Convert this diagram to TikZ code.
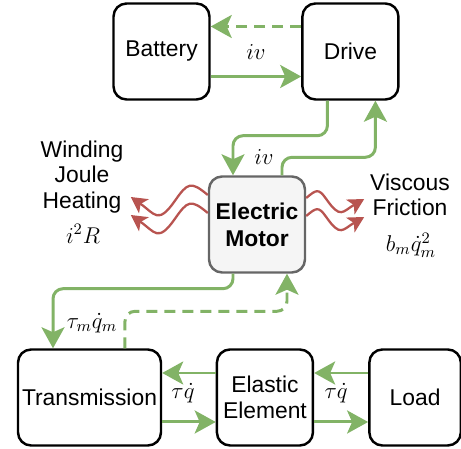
\RequirePackage{fix-cm}
\documentclass[tikz,border=0pt]{standalone}
\usepackage{fontspec}
\setmainfont{Liberation Sans}
\usetikzlibrary{arrows.meta,positioning}
\definecolor{flowGreen}{HTML}{82B366}
\definecolor{heatRed}{HTML}{B85450}
\definecolor{motorFill}{HTML}{F5F5F5}
\definecolor{motorLine}{HTML}{666666}

\begin{document}
\begin{tikzpicture}[
    x=0.02cm, y=0.02cm,
    n/.style={draw, line width=1.4pt, rounded corners=0.26cm, minimum width=1.92cm, minimum height=1.92cm, inner sep=1pt, align=center, font=\fontsize{13}{14.5}\selectfont},
    arr/.style={-{Stealth[length=0.42cm,width=0.46cm,inset=0.1cm]}, line width=1.7pt, flowGreen, rounded corners=0.2cm},
    back/.style={arr, dash pattern=on 0.22cm off 0.14cm},
    heat/.style={-{Stealth[length=0.32cm,width=0.34cm,inset=0.08cm]}, line width=1.3pt, heatRed, looseness=1.7},
    lbl/.style={font=\fontsize{13}{14.5}\selectfont, align=center}
  ]
    \useasboundingbox (0,0) rectangle (461,449);
    \node[n] (B) at (161.5,397.5) {Battery};
    \node[n, right=1.81cm of B] (D) {Drive};
    \node[n, fill=motorFill, draw=motorLine, font=\bfseries\fontsize{13}{15.5}\selectfont] (M) at (257,224.5) {Electric\\Motor};
    \node[n, minimum width=2.86cm] (T) at (89.5,51.5) {Transmission};
    \node[n, right=1.07cm of T] (E) {Elastic\\Element};
    \node[n, minimum width=1.83cm, right=1.08cm of E] (L) {Load};
    % power flow
    \draw[arr] ([yshift=-0.5cm]B.east) -- ([yshift=-0.5cm]D.west);
    \draw[back] ([yshift=0.5cm]D.west) -- ([yshift=0.5cm]B.east);
    \draw[arr] ([xshift=-0.46cm]D.south) -- ++(0,-0.7cm) -| ([xshift=-0.48cm]M.north);
    \draw[arr] ([xshift=0.5cm]M.north) -- ++(0,0.36cm) -| ([xshift=0.5cm]D.south);
    \draw[arr] ([xshift=-0.48cm]M.south) -- ++(0,-0.3cm) -| ([xshift=-0.73cm]T.north);
    \draw[back] ([xshift=0.71cm]T.north) -- ++(0,0.74cm) -| ([xshift=0.6cm]M.south);
    \draw[arr] ([yshift=0.49cm]E.west) -- ([yshift=0.49cm]T.east);
    \draw[arr] ([yshift=-0.49cm]T.east) -- ([yshift=-0.49cm]E.west);
    \draw[arr] ([yshift=0.49cm]L.west) -- ([yshift=0.49cm]E.east);
    \draw[arr] ([yshift=-0.49cm]E.east) -- ([yshift=-0.49cm]L.west);
    % losses
    \draw[heat] ([yshift=0.59cm]M.west) to[out=140,in=55] ++(-33,-6) to[out=235,in=-35] ++(-44,4);
    \draw[heat] ([yshift=0.23cm]M.west) to[out=140,in=55] ++(-33,-6) to[out=235,in=-35] ++(-44,4);
    \draw[heat] ([yshift=0.53cm]M.east) to[out=40,in=125] ++(20,-1) to[out=-55,in=210] ++(38,0);
    \draw[heat] ([yshift=0.17cm]M.east) to[out=40,in=125] ++(20,-1) to[out=-55,in=210] ++(38,0);
    \node[lbl] (jh) at (82,272) {Winding\\Joule\\Heating};
    \node[lbl] (jhq) at (83,215) {$i^2R$};
    \node[lbl] (vf) at (410,254) {Viscous\\Friction};
    \node[lbl] (vfq) at (411,204) {$b_m\dot{q}_m^2$};
    \node[lbl] (pe1) at (256,397) {$iv$};
    \node[lbl] (pe2) at (264,292) {$iv$};
    \node[lbl] (pm) at (92,126) {$\tau_m\dot{q}_m$};
    \node[lbl] (pl1) at (183,56) {$\tau\dot{q}$};
    \node[lbl] (pl2) at (336,56) {$\tau\dot{q}$};
  \end{tikzpicture}
\end{document}
